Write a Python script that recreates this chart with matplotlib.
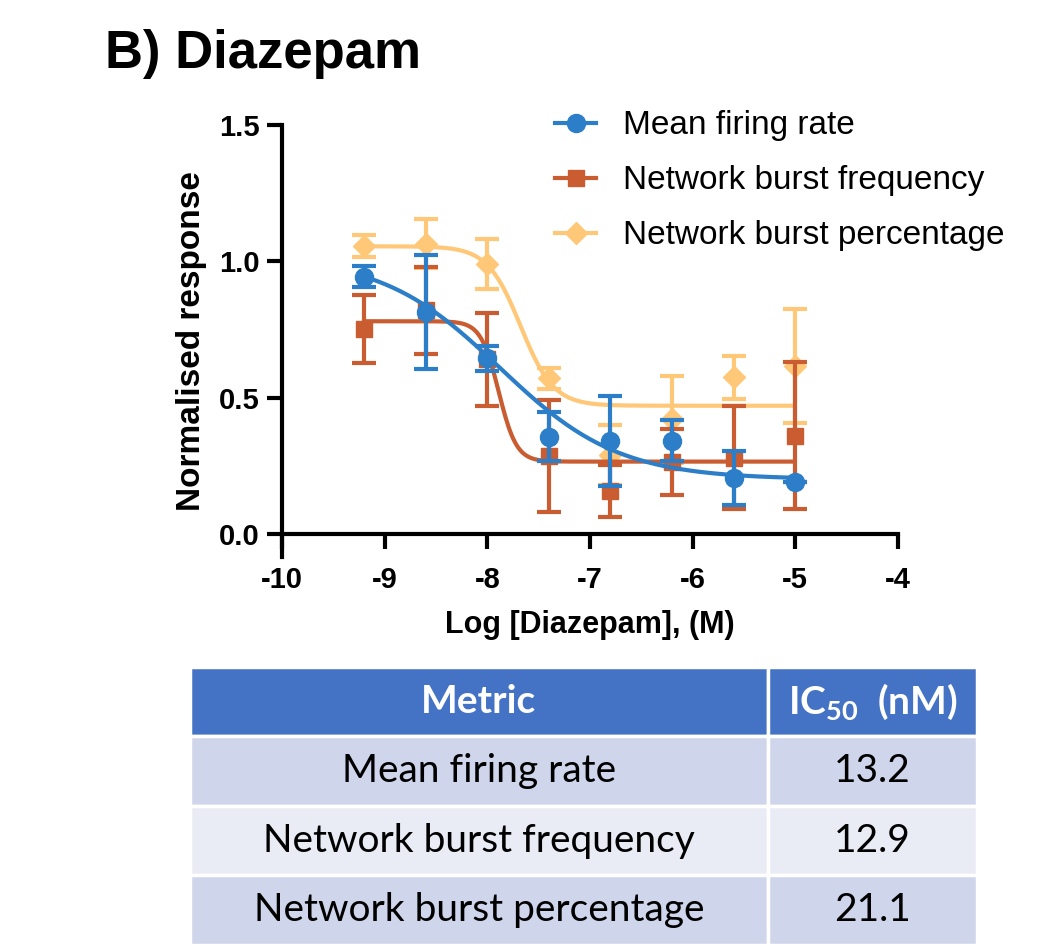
import numpy as np
import matplotlib
matplotlib.use("Agg")
import matplotlib.pyplot as plt
from matplotlib.patches import Rectangle

plt.rcParams["font.family"] = ["Liberation Sans", "DejaVu Sans"]
plt.rcParams["axes.unicode_minus"] = False
plt.rcParams["mathtext.fontset"] = "custom"
plt.rcParams["mathtext.bf"] = "Lato:bold"
plt.rcParams["mathtext.rm"] = "Lato"
plt.rcParams["mathtext.default"] = "bf"

# ------------------------------
# Data
# ------------------------------
log_conc = [-9.2, -8.6, -8.0, -7.4, -6.8, -6.2, -5.6, -5.0]

mfr_mean = [0.944, 0.813, 0.644, 0.356, 0.340, 0.341, 0.205, 0.190]
mfr_err = [0.040, 0.210, 0.045, 0.090, 0.165, 0.075, 0.100, 0.0]

nbf_mean = [0.750, 0.820, 0.640, 0.285, 0.157, 0.264, 0.280, 0.360]
nbf_err = [0.125, 0.160, 0.170, 0.205, 0.095, 0.120, 0.190, 0.270]

nbp_mean = [1.055, 1.065, 0.990, 0.570, 0.290, 0.420, 0.574, 0.616]
nbp_err = [0.040, 0.090, 0.090, 0.040, 0.110, 0.160, 0.080, 0.210]

metrics = ["Mean firing rate", "Network burst frequency", "Network burst percentage"]
ic50_nm = [13.2, 12.9, 21.1]

# 4PL fit parameters (top, bottom, hill); logIC50 from the table
fit_top = [1.02, 0.78, 1.055]
fit_bottom = [0.20, 0.265, 0.47]
fit_hill = [0.75, 5.0, 2.7]

colors = ["#2B7EC7", "#C95C30", "#FFC878"]
markers = ["o", "s", "D"]
msizes = [13, 12, 11]

# ------------------------------
# Figure
# ------------------------------
fig = plt.figure(figsize=(10.37, 9.5), dpi=100)
ax = fig.add_axes([0.2719, 0.4137, 0.594, 0.4547])

means = [mfr_mean, nbf_mean, nbp_mean]
errs = [mfr_err, nbf_err, nbp_err]
xfit = np.linspace(log_conc[0], log_conc[-1], 300)

# draw yellow first, blue on top
for i in [2, 1, 0]:
    c = colors[i]
    logic = np.log10(ic50_nm[i] * 1e-9)
    yfit = fit_bottom[i] + (fit_top[i] - fit_bottom[i]) / (1 + 10 ** ((xfit - logic) * fit_hill[i]))
    z = 3 + (2 - i) * 2
    ax.plot(xfit, yfit, color=c, lw=3, zorder=z, solid_capstyle="butt")
    ax.errorbar(log_conc, means[i], yerr=errs[i], fmt="none", ecolor=c, elinewidth=3,
                capsize=8.5, capthick=3, zorder=z + 1)
    ax.plot(log_conc, means[i], ls="none", marker=markers[i], ms=msizes[i], color=c,
            mec=c, zorder=z + 1)

ax.set_xlim(-10, -4)
ax.set_ylim(-0.085, 1.5)
ax.spines["top"].set_visible(False)
ax.spines["right"].set_visible(False)
ax.spines["bottom"].set_position(("data", 0))
for s in ["left", "bottom"]:
    ax.spines[s].set_linewidth(3)
ax.set_xticks([-10, -9, -8, -7, -6, -5, -4])
ax.set_yticks([0, 0.5, 1.0, 1.5])
ax.set_yticklabels(["0.0", "0.5", "1.0", "1.5"])
ax.tick_params(width=3, length=11, labelsize=21)
for lab in ax.get_xticklabels() + ax.get_yticklabels():
    lab.set_fontweight("bold")
ax.tick_params(axis="x", pad=12)
ax.tick_params(axis="y", pad=5)
ax.set_xlabel("Log [Diazepam], (M)", fontsize=22, fontweight="bold", labelpad=12)
ax.set_ylabel("Normalised response", fontsize=24, fontweight="bold")
ax.yaxis.set_label_coords(-0.122, 0.5)

handles = []
for i in range(3):
    h, = ax.plot([], [], color=colors[i], marker=markers[i], ms=msizes[i], lw=3)
    handles.append(h)
fig.legend(handles, metrics, loc="upper left", bbox_to_anchor=(0.535, 0.884),
           frameon=False, fontsize=24, handlelength=1.25, handletextpad=0.8,
           labelspacing=0.72, borderpad=0, borderaxespad=0)

fig.text(0.101, 0.943, "B) Diazepam", fontsize=38, fontweight="bold", va="center", ha="left")

# ------------------------------
# Table
# ------------------------------
tax = fig.add_axes([0.1832, 0.0053, 0.759, 0.2926])
tax.set_xlim(0, 1)
tax.set_ylim(0, 4)
tax.axis("off")
split = 0.7344
row_cols = ["#CFD5EA", "#E9EBF5", "#CFD5EA"]

tax.add_patch(Rectangle((0, 3), split, 1, fc="#4472C4", ec="white", lw=2.5))
tax.add_patch(Rectangle((split, 3), 1 - split, 1, fc="#4472C4", ec="white", lw=2.5))
tax.text(split / 2, 3.5, "Metric", ha="center", va="center", fontsize=28,
         fontweight="bold", color="white", family="Lato")
tax.text((1 + split) / 2, 3.5, "IC$_{50}$  (nM)", ha="center", va="center", fontsize=28,
         fontweight="bold", color="white", family="Lato")
for r, (name, val) in enumerate(zip(metrics, ic50_nm)):
    y0 = 2 - r
    tax.add_patch(Rectangle((0, y0), split, 1, fc=row_cols[r], ec="white", lw=2.5))
    tax.add_patch(Rectangle((split, y0), 1 - split, 1, fc=row_cols[r], ec="white", lw=2.5))
    tax.text(split / 2, y0 + 0.5, name, ha="center", va="center", fontsize=28,
             color="black", family="Lato")
    tax.text((1 + split) / 2, y0 + 0.5, f"{val:.1f}", ha="center", va="center",
             fontsize=28, color="black", family="Lato")

fig.savefig("out.png", dpi=100)
